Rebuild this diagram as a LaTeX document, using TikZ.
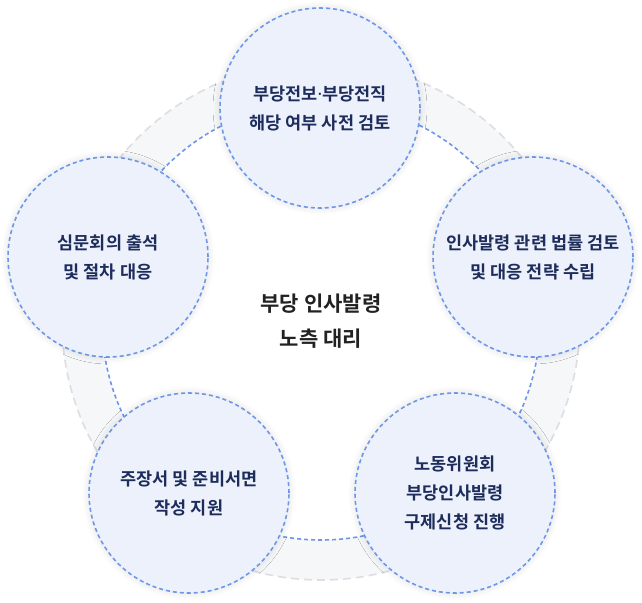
\documentclass[tikz,border=0pt]{standalone}
\usepackage{fontspec}
\setmainfont{Noto Sans CJK KR}[BoldFont={* Bold}]
\newfontfamily\dotfont{Noto Sans}
\usetikzlibrary{shadows.blur}
\definecolor{dotblue}{HTML}{6F97E8}
\definecolor{bubblefill}{HTML}{ECF1FC}
\definecolor{ringfill}{HTML}{F6F7F9}
\definecolor{ringgray}{HTML}{DDDEE1}
\definecolor{navy}{HTML}{1D2C5B}
\definecolor{ink}{HTML}{222222}
\begin{document}
\begin{tikzpicture}[x=1pt, y=-1pt,
    bubble/.style={circle, minimum size=200pt, inner sep=0pt, fill=bubblefill,
      draw=dotblue, line width=1.6pt, dash pattern=on 4pt off 3pt,
      align=center, text=navy, font=\bfseries\fontsize{17.5}{29}\selectfont,
      blur shadow={shadow xshift=0pt, shadow yshift=0pt, shadow blur radius=7pt, shadow opacity=14}},
    ringline/.style={line width=1.6pt, dash pattern=on 8pt off 5pt, draw=ringgray},
    innerline/.style={line width=1.6pt, dash pattern=on 4pt off 3pt, draw=dotblue}]
  \useasboundingbox (0,0) rectangle (642,602);
  \coordinate (ctr) at (321,321);
  % ring behind the bubbles
  \fill[ringfill, even odd rule] (ctr) circle[radius=259] (ctr) circle[radius=219];
  \draw[ringline] (ctr) circle[radius=259];
  \draw[innerline] (ctr) circle[radius=219];
  % steps
  \node[bubble] (review) at (320,108) {부당전보{\dotfont\bfseries·}부당전직\\해당 여부 사전 검토};
  \node[bubble] (law) at (533,257) {인사발령 관련 법률 검토\\및 대응 전략 수립};
  \node[bubble] (claim) at (455,493) {노동위원회\\부당인사발령\\구제신청 진행};
  \node[bubble] (brief) at (189,493) {주장서 및 준비서면\\작성 지원};
  \node[bubble] (hearing) at (108,257) {심문회의 출석\\및 절차 대응};
  \node[align=center, text=ink, font=\bfseries\fontsize{21}{35}\selectfont] (title) at (ctr) {부당 인사발령\\노측 대리};
\end{tikzpicture}
\end{document}
